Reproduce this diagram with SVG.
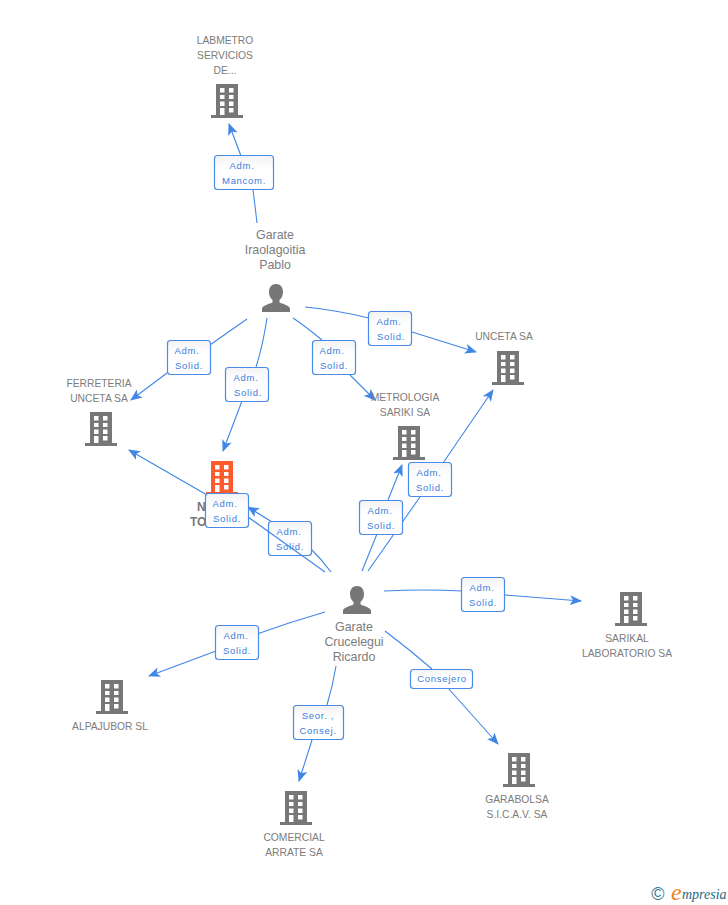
<svg xmlns="http://www.w3.org/2000/svg" width="728" height="905" viewBox="0 0 728 905">
<style>
.n{font:10.3px "Liberation Sans",Arial,sans-serif;fill:#7c7c7c;text-anchor:middle}
.p{font:12.4px "Liberation Sans",Arial,sans-serif;fill:#7c7c7c;text-anchor:middle}
.b{font:bold 12px "Liberation Sans",Arial,sans-serif;fill:#777}
.l{font:9.5px "Liberation Sans",Arial,sans-serif;fill:#3a7de0;text-anchor:middle;letter-spacing:.7px}
.box{fill:url(#g);stroke:#4a8ae8;stroke-width:1.2}
.c{fill:none;stroke:#3f86e6;stroke-width:1.1;marker-end:url(#a)}
.c0{fill:none;stroke:#3f86e6;stroke-width:1.1}
</style>
<defs>
<linearGradient id="g" x1="0" y1="0" x2="0" y2="1"><stop offset="0" stop-color="#f3f3f3"/><stop offset=".4" stop-color="#fff"/></linearGradient>
<marker id="a" markerWidth="13" markerHeight="11" refX="11" refY="5" orient="auto" markerUnits="userSpaceOnUse"><path d="M0 0L12 5L0 10L3 5Z" fill="#3f86e6"/></marker>
<g id="bld">
<path fill-rule="evenodd" d="M5 0H27V31H32V34H0V31H5ZM9 4V8.500H13.500V4ZM18 4V8.500H22.500V4ZM9 11V15H13.500V11ZM18 11V15H22.500V11ZM9 17.500V22H13.500V17.500ZM18 17.500V22H22.500V17.500ZM9 24V31H13.500V24ZM18 24V28.500H22.500V24Z"/>
</g>
<g id="per"><path d="M14 0C18.500 0 21 3.500 21 8C21 11.500 19.500 14.500 17.500 16V18.500C22 20.500 28 21.500 28 25V28H0V25C0 21.500 6 20.500 10.500 18.500V16C8.500 14.500 7 11.500 7 8C7 3.500 9.500 0 14 0Z"/></g>
</defs>
<g id="connectors">
<path class="c0" d="M257 223Q255 205 253 190"/><path class="c" d="M241 156L229 124"/>
<path class="c0" d="M247 319L207 347"/><path class="c" d="M167 373L131 400"/>
<path class="c0" d="M267 318Q263 345 256 367"/><path class="c" d="M242 401L223 451"/>
<path class="c0" d="M293 318Q305 326 322 340"/><path class="c" d="M350 375L375 400"/>
<path class="c0" d="M305 307Q335 310 369 318"/><path class="c" d="M412 332L476 352"/>
<path class="c" d="M207 495L129 450"/>
<path class="c" d="M272 522L248 507"/>
<path class="c0" d="M312 550Q322 560 331 572"/>
<path class="c0" d="M362 571L377 534"/><path class="c" d="M388 500L402 465"/>
<path class="c0" d="M368 571L420 497"/><path class="c" d="M443 463L493 390"/>
<path class="c0" d="M384 591Q425 589 462 591"/><path class="c" d="M505 595L581 601"/>
<path class="c0" d="M325 612Q290 622 257 634"/><path class="c" d="M216 651L149 676"/>
<path class="c0" d="M336 666Q333 685 327 705"/><path class="c" d="M312 740L299 781"/>
<path class="c0" d="M385 631Q410 650 432 669"/><path class="c" d="M448 688L498 744"/>
</g>
<g id="labmetro"><text class="n" x="225" y="44">LABMETRO</text><text class="n" x="225" y="59">SERVICIOS</text><text class="n" x="225" y="74">DE...</text><use href="#bld" x="211" y="84" fill="#777"/></g>
<g id="ferreteria"><text class="n" x="99" y="387">FERRETERIA</text><text class="n" x="99" y="402">UNCETA SA</text><use href="#bld" x="85" y="412" fill="#777"/></g>
<g id="central"><use href="#bld" x="206" y="461" fill="#ff5a2b"/><text class="b" x="197" y="511">N</text><text class="b" x="190" y="526">TO</text></g>
<g id="metrologia"><text class="n" x="405" y="401">METROLOGIA</text><text class="n" x="405" y="416">SARIKI SA</text><use href="#bld" x="393" y="426" fill="#777"/></g>
<g id="unceta"><text class="n" x="504" y="340">UNCETA SA</text><use href="#bld" x="492" y="351" fill="#777"/></g>
<g id="sarikal"><use href="#bld" x="615" y="592" fill="#777"/><text class="n" x="627" y="642">SARIKAL</text><text class="n" x="627" y="657">LABORATORIO SA</text></g>
<g id="alpajubor"><use href="#bld" x="96" y="680" fill="#777"/><text class="n" x="110" y="730">ALPAJUBOR SL</text></g>
<g id="comercial"><use href="#bld" x="280" y="791" fill="#777"/><text class="n" x="294" y="841">COMERCIAL</text><text class="n" x="294" y="856">ARRATE SA</text></g>
<g id="garabolsa"><use href="#bld" x="503" y="753" fill="#777"/><text class="n" x="517" y="803">GARABOLSA</text><text class="n" x="517" y="818">S.I.C.A.V. SA</text></g>
<g id="pablo"><text class="p" x="275" y="239">Garate</text><text class="p" x="275" y="254">Iraolagoitia</text><text class="p" x="275" y="269">Pablo</text><use href="#per" x="262" y="284" fill="#777"/></g>
<g id="ricardo"><use href="#per" x="343" y="586" fill="#777"/><text class="p" x="354" y="631">Garate</text><text class="p" x="354" y="646">Crucelegui</text><text class="p" x="354" y="661">Ricardo</text></g>
<g id="labels">
<g><rect class="box" x="214.500" y="155.500" width="59" height="34" rx="3"/><text class="l" x="242" y="169">Adm.</text><text class="l" x="244" y="184">Mancom.</text></g>
<g><rect class="box" x="167.500" y="340.500" width="43" height="34" rx="3"/><text class="l" x="187" y="354">Adm.</text><text class="l" x="189" y="369">Solid.</text></g>
<g><rect class="box" x="225.500" y="367.500" width="43" height="34" rx="3"/><text class="l" x="246" y="381">Adm.</text><text class="l" x="248" y="396">Solid.</text></g>
<g><rect class="box" x="312.500" y="340.500" width="43" height="34" rx="3"/><text class="l" x="332" y="354">Adm.</text><text class="l" x="334" y="369">Solid.</text></g>
<g><rect class="box" x="368.500" y="311.500" width="43" height="34" rx="3"/><text class="l" x="389" y="325">Adm.</text><text class="l" x="391" y="340">Solid.</text></g>
<g><rect class="box" x="268.500" y="521.500" width="43" height="34" rx="3"/><text class="l" x="289" y="535">Adm.</text><text class="l" x="290" y="550">Solid.</text></g>
<path class="c0" d="M248 517L325 572"/>
<g><rect class="box" x="205.500" y="493.500" width="43" height="34" rx="3"/><text class="l" x="225" y="507">Adm.</text><text class="l" x="227" y="522">Solid.</text></g>
<g><rect class="box" x="359.500" y="500.500" width="43" height="34" rx="3"/><text class="l" x="380" y="514">Adm.</text><text class="l" x="381" y="529">Solid.</text></g>
<g><rect class="box" x="408.500" y="462.500" width="43" height="34" rx="3"/><text class="l" x="429" y="476">Adm.</text><text class="l" x="430" y="491">Solid.</text></g>
<g><rect class="box" x="461.500" y="577.500" width="43" height="34" rx="3"/><text class="l" x="482" y="591">Adm.</text><text class="l" x="483" y="606">Solid.</text></g>
<g><rect class="box" x="215.500" y="625.500" width="43" height="34" rx="3"/><text class="l" x="236" y="639">Adm.</text><text class="l" x="237" y="654">Solid.</text></g>
<g><rect class="box" x="293.500" y="705.500" width="50" height="34" rx="3"/><text class="l" x="318" y="719">Seor. ,</text><text class="l" x="318" y="734">Consej.</text></g>
<g><rect class="box" x="410.500" y="669.500" width="62" height="19" rx="3"/><text class="l" x="442" y="682">Consejero</text></g>
</g>
<g id="logo"><text x="658" y="900" font-family="Liberation Sans,sans-serif" font-size="18" fill="#3a7a94" text-anchor="middle">©</text>
<text x="671" y="900" font-family="Liberation Serif,serif" font-size="24" font-style="italic" fill="#f08020">e</text><text x="682" y="899" font-family="Liberation Serif,serif" font-size="14" font-style="italic" fill="#2a6a80">mpresia</text></g>
</svg>
